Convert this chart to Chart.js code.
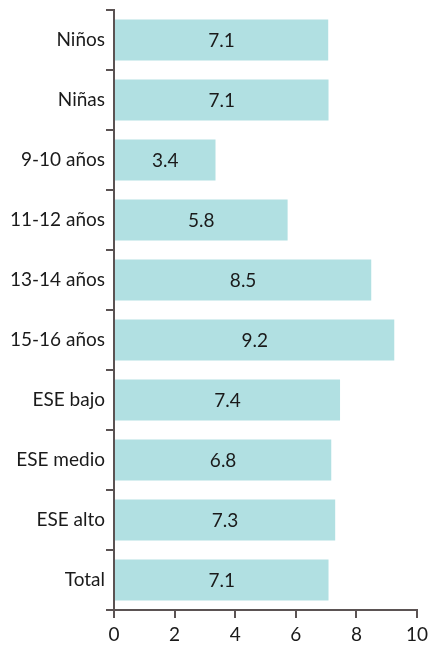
<!DOCTYPE html>
<html>
<head>
<meta charset="utf-8">
<script src="https://cdn.jsdelivr.net/npm/chart.js@4"></script>
<style>
  html, body { margin: 0; padding: 0; background: #fff; }
  #chart { display: block; }
</style>
</head>
<body>
<canvas id="chart" width="428" height="645"></canvas>
<script>
const categories = ['Niños', 'Niñas', '9-10 años', '11-12 años', '13-14 años', '15-16 años', 'ESE bajo', 'ESE medio', 'ESE alto', 'Total'];
// bar lengths as drawn in the picture
const barValues = [7.07, 7.08, 3.35, 5.73, 8.49, 9.25, 7.46, 7.17, 7.3, 7.08];
// numbers printed inside the bars
const valueLabels = ['7.1', '7.1', '3.4', '5.8', '8.5', '9.2', '7.4', '6.8', '7.3', '7.1'];
const xTicks = [0, 2, 4, 6, 8, 10];

const axisColor = '#5b5353';
const textColor = '#1a1a1a';
const fontFamily = 'Lato, "Noto Sans", sans-serif';
const fontSize = 19;

const barLabels = {
    id: 'barLabels',
    afterDatasetsDraw(chart) {
        const ctx = chart.ctx;
        const meta = chart.getDatasetMeta(0);
        ctx.save();
        ctx.font = fontSize + 'px ' + fontFamily;
        ctx.fillStyle = textColor;
        ctx.textAlign = 'center';
        ctx.textBaseline = 'middle';
        meta.data.forEach((bar, i) => {
            ctx.fillText(valueLabels[i], (bar.x + bar.base) / 2, bar.y + 1);
        });
        ctx.restore();
    }
};

new Chart(document.getElementById('chart').getContext('2d'), {
    type: 'bar',
    data: {
        labels: categories,
        datasets: [{
            data: barValues,
            backgroundColor: '#b1e0e2',
            borderWidth: 0,
            barPercentage: 0.68,
            categoryPercentage: 1
        }]
    },
    options: {
        indexAxis: 'y',
        responsive: false,
        animation: false,
        layout: { padding: { top: 10, right: 11, left: 0, bottom: 0 } },
        plugins: {
            legend: { display: false },
            tooltip: { enabled: false }
        },
        scales: {
            x: {
                min: 0,
                max: 10,
                afterBuildTicks(scale) {
                    scale.ticks = xTicks.map(v => ({ value: v }));
                },
                afterFit(scale) {
                    scale.height = 35;
                    scale.paddingLeft = 0;
                    scale.paddingRight = 0;
                },
                border: { display: true, color: axisColor, width: 2 },
                grid: {
                    display: true,
                    drawOnChartArea: false,
                    drawTicks: true,
                    tickLength: 8,
                    color: axisColor,
                    lineWidth: 2
                },
                ticks: {
                    color: textColor,
                    padding: 5,
                    maxRotation: 0,
                    font: { family: fontFamily, size: fontSize }
                }
            },
            y: {
                afterFit(scale) {
                    scale.width = 114;
                    scale.paddingTop = 0;
                    scale.paddingBottom = 0;
                },
                border: { display: true, color: axisColor, width: 2 },
                grid: {
                    display: true,
                    offset: true,
                    drawOnChartArea: false,
                    drawTicks: true,
                    tickLength: 8,
                    color: axisColor,
                    lineWidth: 2
                },
                ticks: {
                    color: textColor,
                    padding: 1,
                    font: { family: fontFamily, size: fontSize }
                }
            }
        }
    },
    plugins: [barLabels]
});
</script>
</body>
</html>
